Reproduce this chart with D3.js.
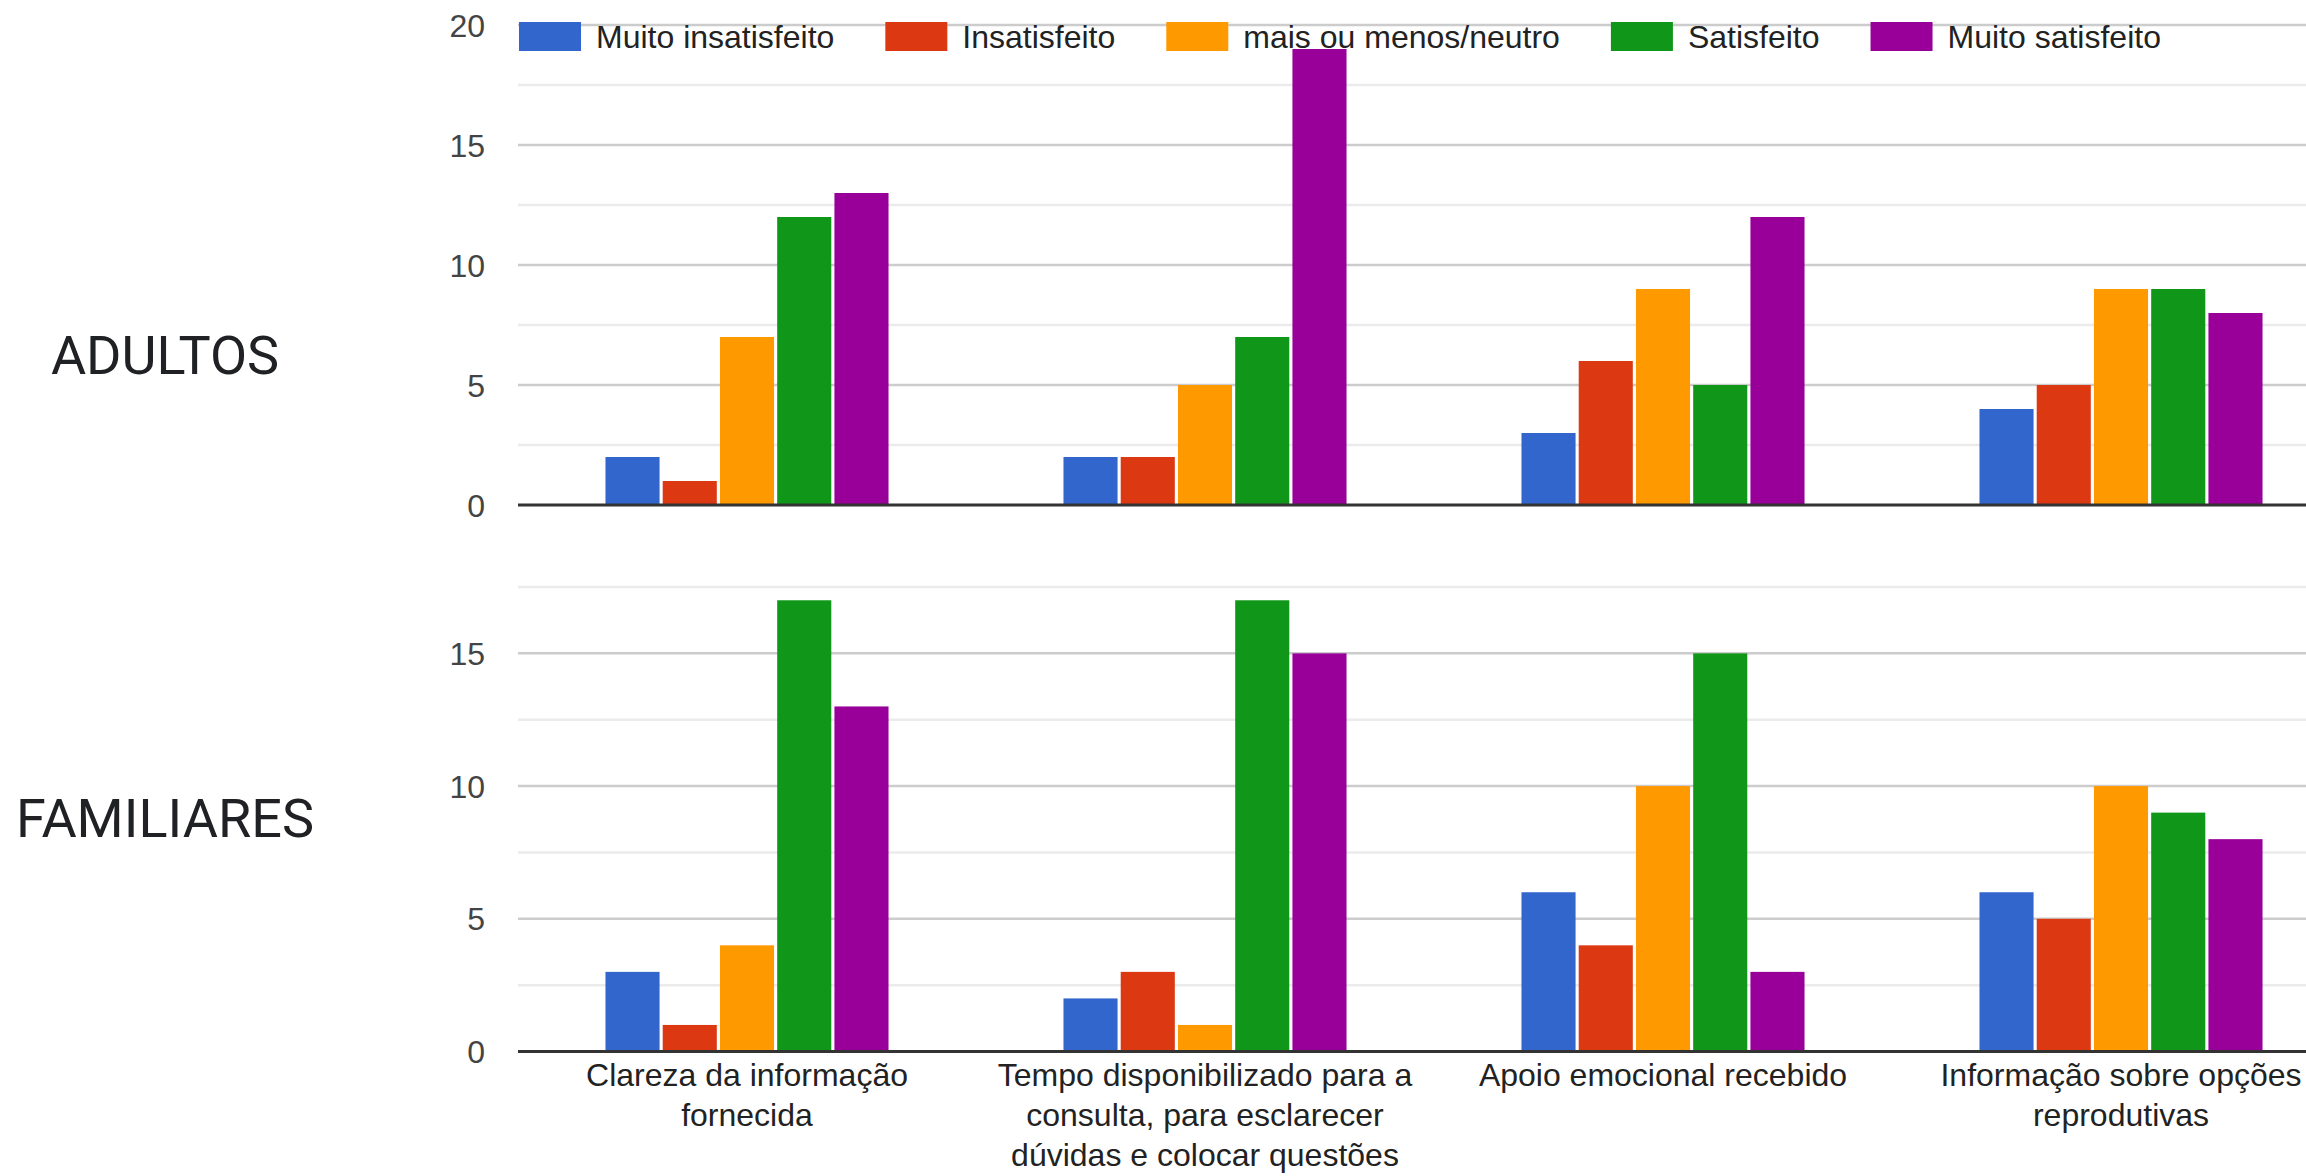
<!DOCTYPE html>
<html>
<head>
<meta charset="utf-8">
<script src="https://cdn.jsdelivr.net/npm/d3@7"></script>
<style>
  html, body { margin: 0; padding: 0; background: #fff; }
  svg { display: block; }
</style>
</head>
<body>
<svg id="chart" width="2306" height="1176"></svg>
<script>
// ---- data ----
const categories = [
  "Clareza da informação fornecida",
  "Tempo disponibilizado para a consulta, para esclarecer dúvidas e colocar questões",
  "Apoio emocional recebido",
  "Informação sobre opções reprodutivas"
];
const categoryLines = [
  ["Clareza da informação", "fornecida"],
  ["Tempo disponibilizado para a", "consulta, para esclarecer", "dúvidas e colocar questões"],
  ["Apoio emocional recebido"],
  ["Informação sobre opções", "reprodutivas"]
];
const seriesNames = ["Muito insatisfeito", "Insatisfeito", "mais ou menos/neutro", "Satisfeito", "Muito satisfeito"];
const seriesColors = ["#3366cc", "#dc3912", "#ff9900", "#109618", "#990099"];

// values per category, in series order
const adultosValues = [
  [2, 1, 7, 12, 13],
  [2, 2, 5, 7, 19],
  [3, 6, 9, 5, 12],
  [4, 5, 9, 9, 8]
];
const familiaresValues = [
  [3, 1, 4, 17, 13],
  [2, 3, 1, 17, 15],
  [6, 4, 10, 15, 3],
  [6, 5, 10, 9, 8]
];
const panelTitles = ["ADULTOS", "FAMILIARES"];
const adultosTicks = [0, 5, 10, 15, 20];
const familiaresTicks = [0, 5, 10, 15];
const adultosGrid = [2.5, 5, 7.5, 10, 12.5, 15, 17.5, 20];
const familiaresGrid = [2.5, 5, 7.5, 10, 12.5, 15, 17.5];

// ---- layout ----
const W = 2306, H = 1176;
const plotLeft = 518, plotRight = 2350;
const svg = d3.select("#chart");
svg.append("rect").attr("width", W).attr("height", H).attr("fill", "#fff");

const x = d3.scaleBand().domain(d3.range(categories.length))
  .range([plotLeft, plotRight]).paddingInner(0.382).paddingOuter(0.191);
const xs = d3.scaleBand().domain(seriesNames).range([0, x.bandwidth()]).paddingInner(0.055);

const panels = [
  { title: panelTitles[0], values: adultosValues, y: d3.scaleLinear().domain([0, 20]).range([505, 25]),
    ticks: adultosTicks, grid: adultosGrid, titleY: 374 },
  { title: panelTitles[1], values: familiaresValues, y: d3.scaleLinear().domain([0, 17.5]).range([1051.5, 587]),
    ticks: familiaresTicks, grid: familiaresGrid, titleY: 837 }
];

const fontAxis = "'Liberation Sans', Arial, sans-serif";

panels.forEach((p, pi) => {
  const g = svg.append("g");
  // gridlines
  g.append("g").selectAll("line").data(p.grid).join("line")
    .attr("x1", plotLeft).attr("x2", W)
    .attr("y1", d => p.y(d)).attr("y2", d => p.y(d))
    .attr("stroke", d => (d % 5 === 0) ? "#cccccc" : "#ebebeb")
    .attr("stroke-width", 2.5);

  // y axis labels
  const ax = d3.axisLeft(p.y).tickValues(p.ticks).tickSize(0).tickPadding(0).tickFormat(d3.format("d"));
  const axG = g.append("g").attr("transform", "translate(485,0)").call(ax);
  axG.select(".domain").remove();
  axG.selectAll("text").attr("font-family", fontAxis).attr("font-size", 32)
    .attr("fill", "#444").attr("dy", "0.35em");

  // bars
  const groups = g.append("g").selectAll("g").data(p.values).join("g")
    .attr("transform", (d, i) => `translate(${x(i)},0)`);
  groups.selectAll("rect").data(d => d.map((v, k) => ({ v, k }))).join("rect")
    .attr("x", d => xs(seriesNames[d.k]))
    .attr("width", xs.bandwidth())
    .attr("y", d => p.y(d.v))
    .attr("height", d => p.y(0) - p.y(d.v))
    .attr("fill", d => seriesColors[d.k]);

  // baseline
  g.append("line").attr("x1", plotLeft).attr("x2", W)
    .attr("y1", p.y(0)).attr("y2", p.y(0))
    .attr("stroke", "#333").attr("stroke-width", 3);

  // panel title
  svg.append("text").attr("x", 165).attr("y", p.titleY)
    .attr("text-anchor", "middle")
    .attr("font-family", "Roboto, 'Noto Sans', sans-serif")
    .attr("font-size", 54).attr("fill", "#202124")
    .text(p.title);
});

// category labels (below bottom panel)
const catG = svg.append("g");
categoryLines.forEach((lines, i) => {
  const t = catG.append("text")
    .attr("text-anchor", "middle")
    .attr("font-family", fontAxis).attr("font-size", 32).attr("fill", "#222");
  lines.forEach((ln, j) => {
    t.append("tspan").attr("x", x(i) + x.bandwidth() / 2).attr("y", 1086 + j * 40).text(ln);
  });
});

// legend
const leg = svg.append("g");
let lx = 519;
seriesNames.forEach((name, k) => {
  leg.append("rect").attr("x", lx).attr("y", 22).attr("width", 62).attr("height", 29)
    .attr("fill", seriesColors[k]);
  const t = leg.append("text").attr("x", lx + 62 + 15).attr("y", 48)
    .attr("font-family", fontAxis).attr("font-size", 32).attr("fill", "#222").text(name);
  const tw = t.node().getComputedTextLength();
  lx = lx + 62 + 15 + tw + 51;
});
</script>
</body>
</html>
